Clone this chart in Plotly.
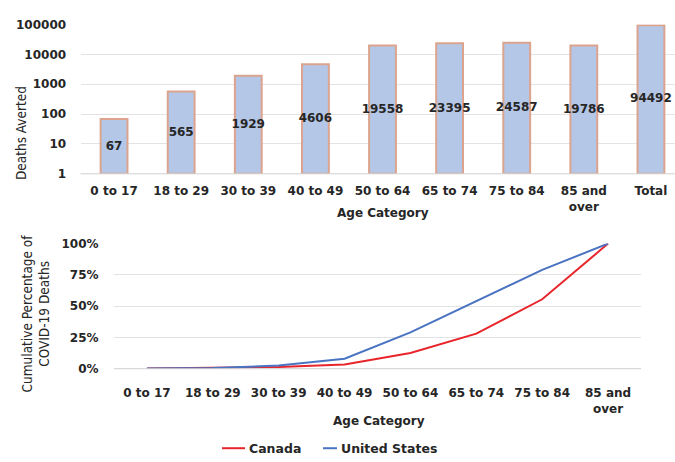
import numpy as np
import plotly.graph_objects as go

# Deaths averted by age group (log-scale bar chart)
bar_categories = ["0 to 17", "18 to 29", "30 to 39", "40 to 49", "50 to 64",
                  "65 to 74", "75 to 84", "85 and<br>over", "Total"]
deaths_averted = [67, 565, 1929, 4606, 19558, 23395, 24587, 19786, 94492]

# Cumulative share of COVID-19 deaths by age group
line_categories = ["0 to 17", "18 to 29", "30 to 39", "40 to 49", "50 to 64",
                   "65 to 74", "75 to 84", "85 and<br>over"]
canada_cum = [0.001, 0.004, 0.013, 0.033, 0.125, 0.28, 0.555, 1.0]
us_cum = [0.001, 0.005, 0.025, 0.08, 0.29, 0.54, 0.79, 1.0]
series_names = ["Canada", "United States"]
series_colors = ["#e8252b", "#4a73c2"]

y_ticks_log = [1, 10, 100, 1000, 10000, 100000]
y_ticks_pct = [0, 0.25, 0.5, 0.75, 1.0]

W, H = 675, 462
FONT = "DejaVu Sans, Liberation Sans, Arial"
NARROW = "Liberation Sans Narrow, DejaVu Sans Condensed, Arial Narrow, sans-serif"
TXT = "#262626"
GRID = "#e3e3e3"


def px_x(p):
    return p / W


def px_y(p):
    return 1 - p / H


fig = go.Figure()

xb = list(range(len(bar_categories)))
fig.add_trace(go.Bar(
    x=xb, y=deaths_averted, base=[1] * len(xb), width=0.4,
    marker=dict(color="#b4c7e7", line=dict(color="#dca48e", width=2)),
    showlegend=False, xaxis="x", yaxis="y", hoverinfo="skip",
))
# value labels placed at the bar's middle on the log scale
fig.add_trace(go.Scatter(
    x=xb, y=np.sqrt(np.array(deaths_averted, dtype=float)),
    mode="text", text=[f"<b>{v}</b>" for v in deaths_averted],
    textfont=dict(family=FONT, size=12, color=TXT),
    showlegend=False, xaxis="x", yaxis="y", hoverinfo="skip",
))

xl = list(range(len(line_categories)))
for name, vals, col in zip(series_names, [canada_cum, us_cum], series_colors):
    fig.add_trace(go.Scatter(
        x=xl, y=vals, mode="lines", name=name,
        line=dict(color=col, width=2), xaxis="x2", yaxis="y2",
        showlegend=False,
    ))

top_left, top_right_full = 80.5, 684.5
step_top = (top_right_full - top_left) / len(bar_categories)
top_xmax = len(bar_categories) - 0.5 - (top_right_full - W) / step_top

annotations = [
    dict(text="<b>Age Category</b>", x=px_x(383), y=px_y(212)),
    dict(text="<b>Age Category</b>", x=px_x(379), y=px_y(427)),
    dict(text="Deaths Averted", x=px_x(21), y=px_y(130), textangle=-90,
         font=dict(family=NARROW, size=13.5, color=TXT)),
    dict(text="Cumulative Percentage of<br>COVID-19 Deaths", x=px_x(36),
         y=px_y(316), textangle=-90,
         font=dict(family=NARROW, size=13.5, color=TXT)),
]

# legend drawn as line samples with labels beneath the lower chart
legend_items = [(222, 245, 247), (323, 337, 339)]
shapes = []
for (lx0, lx1, tx), name, col in zip(legend_items, series_names, series_colors):
    shapes.append(dict(type="line", xref="paper", yref="paper",
                       x0=px_x(lx0), x1=px_x(lx1), y0=px_y(455), y1=px_y(455),
                       line=dict(color=col, width=2)))
    annotations.append(dict(text=f"<b>{name}</b>", x=px_x(tx), y=px_y(455),
                            xanchor="left", font=dict(family=FONT, size=12.5, color=TXT)))

for a in annotations:
    a.setdefault("xref", "paper")
    a.setdefault("yref", "paper")
    a.setdefault("showarrow", False)
    a.setdefault("xanchor", "center")
    a.setdefault("yanchor", "middle")
    a.setdefault("font", dict(family=FONT, size=12, color=TXT))

# baseline lines along the bottom of each plot
shapes.append(dict(type="line", xref="paper", yref="paper", x0=px_x(top_left), x1=1,
                   y0=px_y(172), y1=px_y(172), line=dict(color="#d0d0d0", width=1)))
shapes.append(dict(type="line", xref="paper", yref="paper", x0=px_x(114), x1=px_x(641),
                   y0=px_y(373), y1=px_y(373), line=dict(color="#d0d0d0", width=1)))

fig.update_layout(
    width=W, height=H,
    margin=dict(l=0, r=0, t=0, b=0),
    paper_bgcolor="white", plot_bgcolor="white",
    font=dict(family=FONT, size=12, color=TXT),
    showlegend=False,
    xaxis=dict(
        domain=[px_x(top_left), 1.0], range=[-0.5, top_xmax],
        tickvals=xb, ticktext=[f"<b>{c}</b>" for c in bar_categories],
        showgrid=False, zeroline=False, showline=False,
        ticks="outside", ticklen=6, tickcolor="rgba(0,0,0,0)",
        tickfont=dict(family=FONT, size=12, color=TXT), anchor="y",
    ),
    yaxis=dict(
        domain=[px_y(172), px_y(18)], type="log", range=[0, 5],
        tickvals=y_ticks_log, ticktext=[f"<b>{v}</b>" for v in y_ticks_log],
        showgrid=True, gridcolor=GRID, gridwidth=1, zeroline=False,
        showline=False, ticks="outside", ticklen=11, tickcolor="rgba(0,0,0,0)",
        tickfont=dict(family=FONT, size=12, color=TXT), anchor="x",
    ),
    xaxis2=dict(
        domain=[px_x(114), px_x(641)], range=[-0.5, len(line_categories) - 0.5],
        tickvals=xl, ticktext=[f"<b>{c}</b>" for c in line_categories],
        showgrid=False, zeroline=False, showline=False,
        ticks="outside", ticklen=13, tickcolor="rgba(0,0,0,0)",
        tickfont=dict(family=FONT, size=12, color=TXT), anchor="y2",
    ),
    yaxis2=dict(
        domain=[px_y(373), px_y(244)], range=[0, 1.0],
        tickvals=y_ticks_pct,
        ticktext=[f"<b>{int(v * 100)}%</b>" for v in y_ticks_pct],
        showgrid=True, gridcolor=GRID, gridwidth=1, zeroline=False,
        showline=False, ticks="outside", ticklen=12, tickcolor="rgba(0,0,0,0)",
        tickfont=dict(family=FONT, size=12, color=TXT), anchor="x2",
    ),
    annotations=annotations,
    shapes=shapes,
)

fig.write_html("out.html")
